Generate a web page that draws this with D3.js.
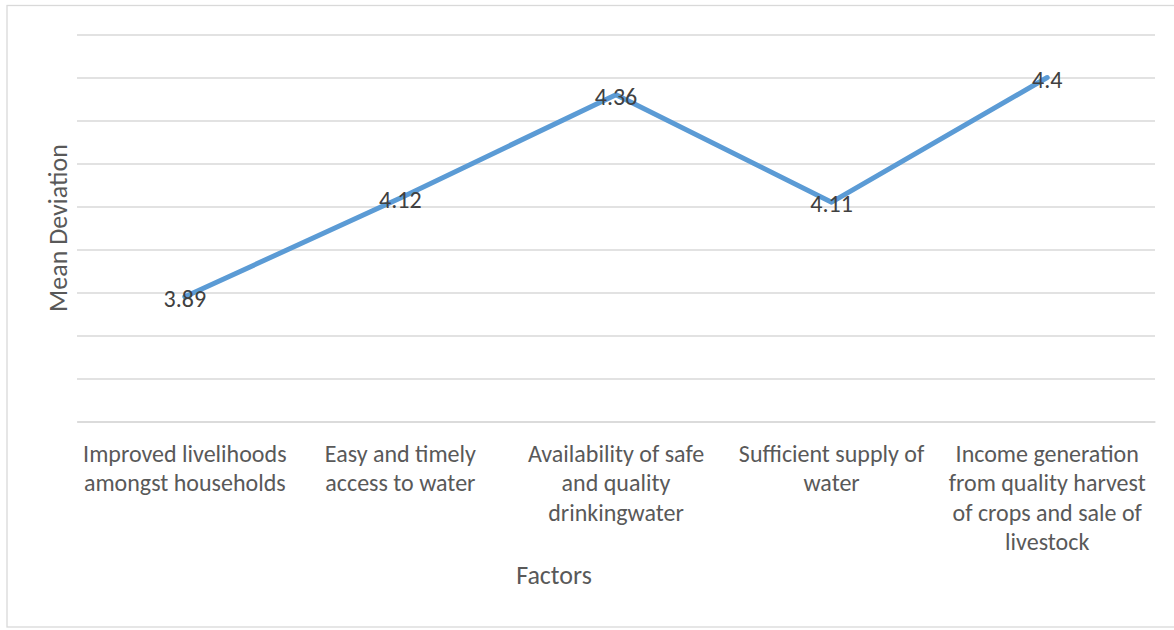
<!DOCTYPE html>
<html>
<head>
<meta charset="utf-8">
<script src="https://cdn.jsdelivr.net/npm/d3@7"></script>
<style>
  html, body { margin: 0; padding: 0; background: #fff; }
  svg { display: block; }
  text { font-family: Carlito, Calibri, Lato, "Liberation Sans", sans-serif; }
</style>
</head>
<body>
<svg id="chart" width="1174" height="630"></svg>
<script>
// Factor names (pre-wrapped into lines) and their mean scores
const categories = [
  ["Improved livelihoods", "amongst households"],
  ["Easy and timely", "access to water"],
  ["Availability of safe", "and quality", "drinkingwater"],
  ["Sufficient supply of", "water"],
  ["Income generation", "from quality harvest", "of crops and sale of", "livestock"]
];
const values = [3.89, 4.12, 4.36, 4.11, 4.4];
const valueLabels = ["3.89", "4.12", "4.36", "4.11", "4.4"];
const yTicks = [3.6, 3.7, 3.8, 3.9, 4.0, 4.1, 4.2, 4.3, 4.4, 4.5];

const svg = d3.select("#chart");
const plot = { left: 77, right: 1155, top: 34.5, bottom: 421.5 };

// Outer chart frame (right edge runs past the canvas)
svg.append("rect")
  .attr("x", 7).attr("y", 5.5)
  .attr("width", 1200).attr("height", 621.5)
  .attr("fill", "#fff")
  .attr("stroke", "#d9d9d9").attr("stroke-width", 1.3);

const keys = categories.map((c, i) => i);
const x = d3.scaleBand().domain(keys).range([plot.left, plot.right]);
const y = d3.scaleLinear().domain([3.6, 4.5]).range([plot.bottom, plot.top]);

// Horizontal gridlines
const grid = svg.append("g")
  .attr("transform", `translate(${plot.left},0)`)
  .call(d3.axisLeft(y).tickValues(yTicks)
    .tickSize(-(plot.right - plot.left)).tickFormat(""));
grid.select(".domain").remove();
grid.selectAll(".tick line").attr("stroke", "#d9d9d9").attr("stroke-width", 1.3);

// Category axis labels
const xAxis = svg.append("g")
  .attr("transform", `translate(0,${plot.bottom})`)
  .call(d3.axisBottom(x).tickSize(0).tickFormat(""));
xAxis.select(".domain").attr("stroke", "#d9d9d9").attr("stroke-width", 1.3);
xAxis.selectAll(".tick").each(function (d) {
  const t = d3.select(this).append("text")
    .attr("fill", "#595959")
    .attr("font-size", 24)
    .attr("text-anchor", "middle")
    .attr("y", 31.5)
    .attr("dominant-baseline", "central");
  categories[d].forEach((line, j) => {
    t.append("tspan").attr("x", 0).attr("dy", j === 0 ? 0 : 29.3).text(line);
  });
});

// Series line
const cx = i => x(i) + x.bandwidth() / 2;
svg.append("path")
  .datum(values)
  .attr("fill", "none")
  .attr("stroke", "#5b9bd5")
  .attr("stroke-width", 5)
  .attr("stroke-linecap", "round")
  .attr("stroke-linejoin", "round")
  .attr("d", d3.line().x((d, i) => cx(i)).y(d => y(d)));

// Value labels centred on each point
svg.append("g").selectAll("text")
  .data(values)
  .join("text")
  .attr("x", (d, i) => cx(i))
  .attr("y", d => y(d) + 1.5)
  .attr("text-anchor", "middle")
  .attr("dominant-baseline", "central")
  .attr("fill", "#404040")
  .attr("font-size", 24)
  .text((d, i) => valueLabels[i]);

// Axis titles
svg.append("text")
  .attr("x", 554)
  .attr("y", 575)
  .attr("text-anchor", "middle")
  .attr("dominant-baseline", "central")
  .attr("fill", "#595959")
  .attr("font-size", 26)
  .text("Factors");

svg.append("text")
  .attr("transform", `translate(58,${(plot.top + plot.bottom) / 2}) rotate(-90)`)
  .attr("text-anchor", "middle")
  .attr("dominant-baseline", "central")
  .attr("fill", "#595959")
  .attr("font-size", 26)
  .text("Mean Deviation");
</script>
</body>
</html>
